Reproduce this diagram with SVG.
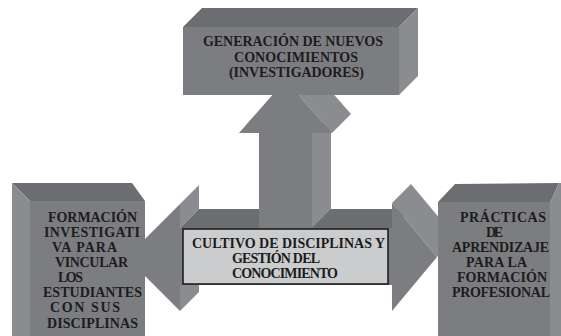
<svg xmlns="http://www.w3.org/2000/svg" width="561" height="336" viewBox="0 0 561 336">
<style>
.front{fill:#7c7d80}
.top{fill:#6c6d70}
.side{fill:#8b8c8f}
.label{fill:#cbcccd;stroke:#151515;stroke-width:1.5}
</style>
<rect width="561" height="336" fill="#ffffff"/>
<g id="connectors">
  <polygon class="side" points="180,204 199,185 199,209 180,228"/>
  <polygon class="side" points="180,285 199,266 199,292 180,311"/>
  <polygon class="front" points="180,204 126.5,257.5 180,311"/>
  <polygon class="top" points="180,228 199,209 411,209 392,228"/>
  <rect class="front" x="180" y="228" width="212" height="57"/>
  <polygon class="side" points="392,203 411,184 456,238 437,257"/>
  <polygon class="front" points="392,203 437,257 392,311"/>
  <polygon class="side" points="312,133 331,114 331,209 312,228"/>
  <rect class="front" x="259" y="133" width="53" height="95"/>
  <polygon class="side" points="285.5,80 304.5,61 351,114 332,133"/>
  <polygon class="front" points="239,133 285.5,80 332,133"/>
</g>
<g id="node-top">
  <polygon class="top" points="183,27 202,8 418,8 399,27"/>
  <polygon class="side" points="399,27 418,8 418,76 399,95"/>
  <rect class="front" x="183" y="27" width="216" height="68"/>
  <g font-family="'Liberation Serif', 'Times New Roman', serif" font-weight="bold" font-size="14" fill="#1c1c1c" lengthAdjust="spacing">
    <text x="203" y="46" textLength="180" lengthAdjust="spacing">GENERACIÓN DE NUEVOS</text>
    <text x="234" y="62" textLength="124" lengthAdjust="spacing">CONOCIMIENTOS</text>
    <text x="229" y="77" textLength="135" lengthAdjust="spacing">(INVESTIGADORES)</text>
  </g>
</g>
<g id="node-left">
  <polygon class="top" points="12,183 132,183 145,201 30,201"/>
  <polygon class="side" points="12,183 30,201 30,336 12,336"/>
  <rect class="front" x="30" y="201" width="115" height="135"/>
  <g font-family="'Liberation Serif', 'Times New Roman', serif" font-weight="bold" font-size="14" fill="#1c1c1c">
    <text x="48" y="222" textLength="89" lengthAdjust="spacing">FORMACIÓN</text>
    <text x="44" y="237" textLength="96" lengthAdjust="spacing">INVESTIGATI</text>
    <text x="52" y="252" textLength="65" lengthAdjust="spacing">VA PARA</text>
    <text x="55" y="267" textLength="73" lengthAdjust="spacing">VINCULAR</text>
    <text x="58" y="282" textLength="25" lengthAdjust="spacing">LOS</text>
    <text x="43" y="297" textLength="99" lengthAdjust="spacing">ESTUDIANTES</text>
    <text x="50" y="312" textLength="70" lengthAdjust="spacing">CON SUS</text>
    <text x="47" y="328" textLength="91" lengthAdjust="spacing">DISCIPLINAS</text>
  </g>
</g>
<g id="node-right">
  <polygon class="top" points="438,202 455,184 559,183 550,203"/>
  <polygon class="side" points="550,203 559,183 561,183 561,336 550,336"/>
  <rect class="front" x="438" y="202" width="112" height="134"/>
  <g font-family="'Liberation Serif', 'Times New Roman', serif" font-weight="bold" font-size="14" fill="#1c1c1c">
    <text x="460" y="222" textLength="86" lengthAdjust="spacing">PRÁCTICAS</text>
    <text x="486" y="237" textLength="17" lengthAdjust="spacing">DE</text>
    <text x="452" y="252" textLength="97" lengthAdjust="spacing">APRENDIZAJE</text>
    <text x="466" y="267" textLength="61" lengthAdjust="spacing">PARA LA</text>
    <text x="457" y="282" textLength="90" lengthAdjust="spacing">FORMACIÓN</text>
    <text x="452" y="297" textLength="98" lengthAdjust="spacing">PROFESIONAL</text>
  </g>
</g>
<g id="node-center">
  <rect class="label" x="183" y="229" width="205" height="55"/>
  <g font-family="'Liberation Serif', 'Times New Roman', serif" font-weight="bold" font-size="14" fill="#1c1c1c">
    <text x="192" y="248" textLength="193" lengthAdjust="spacing">CULTIVO DE DISCIPLINAS Y</text>
    <text x="232" y="263" textLength="88" lengthAdjust="spacing">GESTIÓN DEL</text>
    <text x="232" y="278" textLength="106" lengthAdjust="spacing">CONOCIMIENTO</text>
  </g>
</g>
</svg>
